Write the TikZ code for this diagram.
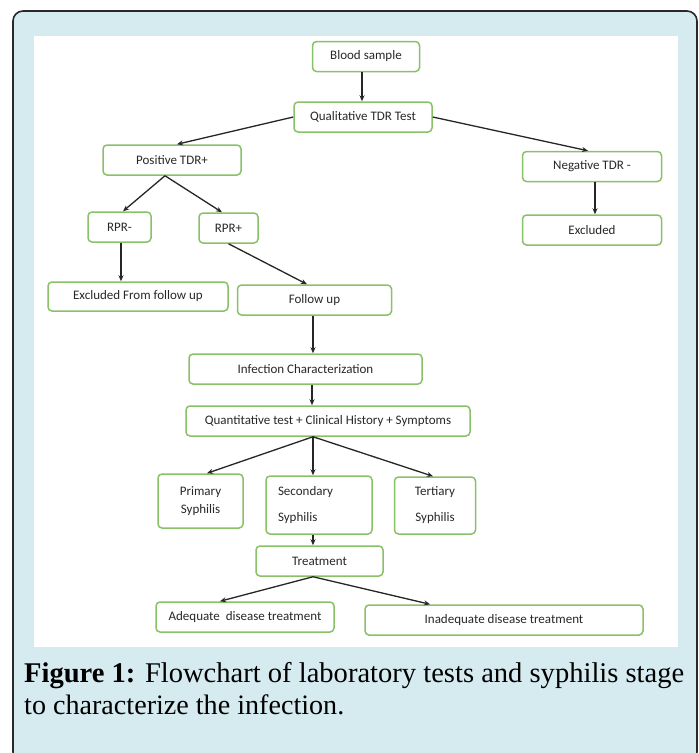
\documentclass[tikz,border=0pt]{standalone}
\usepackage{fontspec}
\setmainfont{Carlito}
\newfontfamily\capfont{Liberation Serif}
\usetikzlibrary{arrows.meta}
\definecolor{bgblue}{RGB}{214,235,240}
\definecolor{boxgreen}{RGB}{137,193,104}
\definecolor{framegray}{RGB}{40,40,40}
\definecolor{txtgray}{RGB}{40,40,40}
\tikzset{
  box/.style={draw=boxgreen, line width=1.5pt, rounded corners=4pt, fill=white,
    inner sep=0pt, font=\fontsize{13}{15}\selectfont, text=txtgray, align=center},
  arr/.style={-{Stealth[length=6pt,width=5pt]}, line width=1.3pt, draw=black!85},
  captext/.style={anchor=base west, inner sep=0pt, font=\capfont, text=black},
}
\begin{document}
\begin{tikzpicture}[x=1pt,y=-1pt]
\useasboundingbox (0,0) rectangle (699,753);
\begin{scope}
\clip (0,0) rectangle (699,753);
\draw[fill=bgblue, draw=framegray, line width=1.6pt, rounded corners=10pt] (13,11) rectangle (697,762);
\end{scope}
\fill[white] (34,36) rectangle (678,647);

% nodes
\node[box, minimum width=107pt, minimum height=30pt] (blood) at (366,56.5) {Blood sample};
\node[box, minimum width=138pt, minimum height=30pt] (qual) at (363,117) {Qualitative TDR Test};
\node[box, minimum width=138pt, minimum height=30pt] (pos) at (172,160) {Positive TDR+};
\node[box, minimum width=139pt, minimum height=30pt] (neg) at (592,166.5) {Negative TDR -};
\node[box, minimum width=139pt, minimum height=30pt] (excl) at (592,230) {Excluded};
\node[box, minimum width=63pt, minimum height=30pt] (rprm) at (119.5,227) {RPR-};
\node[box, minimum width=59pt, minimum height=30pt] (rprp) at (228.5,228) {RPR+};
\node[box, minimum width=180pt, minimum height=29pt] (exfu) at (138,296.5) {Excluded From follow up};
\node[box, minimum width=154pt, minimum height=30pt] (fu) at (314.5,300) {Follow up};
\node[box, minimum width=233pt, minimum height=30pt] (inf) at (305.5,369) {Infection Characterization};
\node[box, minimum width=284pt, minimum height=30pt] (quant) at (328,421) {Quantitative test + Clinical History + Symptoms};
\node[box, minimum width=85pt, minimum height=54pt, font=\fontsize{13}{18}\selectfont] (prim) at (200.5,501) {Primary\\Syphilis};
\node[box, minimum width=106pt, minimum height=58pt, text width=82pt, align=left, font=\fontsize{13}{26}\selectfont] (sec) at (319,505) {Secondary\\Syphilis};
\node[box, minimum width=81pt, minimum height=57pt, font=\fontsize{13}{26}\selectfont] (ter) at (435,505.5) {Tertiary\\Syphilis};
\node[box, minimum width=127pt, minimum height=30pt] (treat) at (319.5,561) {Treatment};
\node[box, minimum width=178pt, minimum height=30pt] (adeq) at (245,617) {Adequate\ \ disease treatment};
\node[box, minimum width=278pt, minimum height=30pt] (inad) at (504,620) {Inadequate disease treatment};

% connectors
\draw[arr] ([xshift=-4pt]blood.south) -- ([xshift=-1pt]qual.north);
\draw[arr] (qual.west) -- ([xshift=5pt]pos.north);
\draw[arr] (qual.east) -- ([xshift=-4pt]neg.north);
\draw[arr] ([xshift=-7pt]pos.south) -- ([xshift=3.5pt]rprm.north);
\draw[arr] ([xshift=-7pt]pos.south) -- ([xshift=-6.5pt]rprp.north);
\draw[arr] ([xshift=3pt]neg.south) -- ([xshift=3pt]excl.north);
\draw[arr] ([xshift=1.5pt]rprm.south) -- ([xshift=-17pt]exfu.north);
\draw[arr] (rprp.south) -- ([xshift=-7.5pt]fu.north);
\draw[arr] ([xshift=-1.5pt]fu.south) -- ([xshift=7.5pt]inf.north);
\draw[arr] ([xshift=6.5pt]inf.south) -- ([xshift=-16pt]quant.north);
\draw[arr] ([xshift=-15pt]quant.south) -- ([xshift=6.5pt]prim.north);
\draw[arr] ([xshift=-15pt]quant.south) -- ([xshift=-6pt]sec.north);
\draw[arr] ([xshift=-15pt]quant.south) -- ([xshift=-2pt]ter.north);
\draw[arr] ([xshift=-6pt]sec.south) -- ([xshift=-6.5pt]treat.north);
\draw[arr] ([xshift=-6.5pt]treat.south) -- ([xshift=-25pt]adeq.north);
\draw[arr] ([xshift=-6.5pt]treat.south) -- ([xshift=-74pt]inad.north);

% caption
\node[captext] (cap1) at (24,682) {\resizebox{660pt}{!}{\textbf{Figure 1:} Flowchart of laboratory tests and syphilis stage}};
\node[captext] (cap2) at (24,714) {\resizebox{320pt}{!}{to characterize the infection.}};
\end{tikzpicture}
\end{document}
